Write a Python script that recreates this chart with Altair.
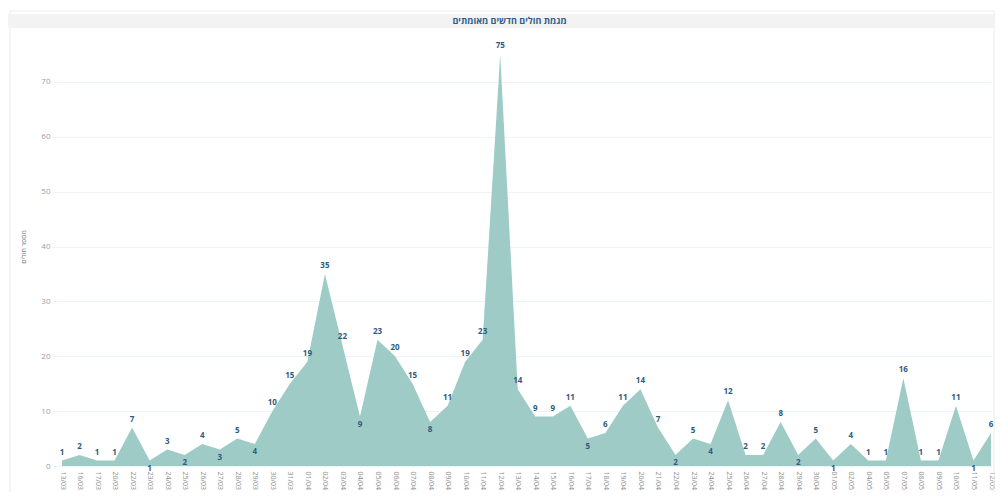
import altair as alt
import pandas as pd

dates = ["13/03", "16/03", "17/03", "20/03", "22/03", "23/03", "24/03", "25/03", "26/03", "27/03",
         "28/03", "29/03", "30/03", "31/03", "01/04", "02/04", "03/04", "04/04", "05/04", "06/04",
         "07/04", "08/04", "09/04", "10/04", "11/04", "12/04", "13/04", "14/04", "15/04", "16/04",
         "17/04", "18/04", "19/04", "20/04", "21/04", "22/04", "23/04", "24/04", "25/04", "26/04",
         "27/04", "28/04", "29/04", "30/04", "01/05", "02/05", "04/05", "05/05", "07/05", "08/05",
         "09/05", "10/05", "11/05", "12/05"]
cases = [1, 2, 1, 1, 7, 1, 3, 2, 4, 3,
         5, 4, 10, 15, 19, 35, 22, 9, 23, 20,
         15, 8, 11, 19, 23, 75, 14, 9, 9, 11,
         5, 6, 11, 14, 7, 2, 5, 4, 12, 2,
         2, 8, 2, 5, 1, 4, 1, 1, 16, 1,
         1, 11, 1, 6]
y_ticks = [0, 10, 20, 30, 40, 50, 60, 70]

title_text = "מגמת חולים חדשים מאומתים"
y_title = "מספר חולים"

pos = []
for i, v in enumerate(cases):
    prev = cases[i - 1] if i > 0 else None
    nxt = cases[i + 1] if i < len(cases) - 1 else None
    is_min = prev is not None and nxt is not None and v < prev and v < nxt
    pos.append("below" if is_min else "above")

df = pd.DataFrame({"date": dates, "cases": cases, "pos": pos})

W, H = 929, 439
FONT = "Open Sans"
LABEL_COLOR = "#2f5b7c"

x_enc = alt.X("date:O", sort=dates, title=None,
              scale=alt.Scale(type="point", padding=0),
              axis=alt.Axis(labelAngle=90, labelFontSize=7, labelColor="#8f8f8f",
                            ticks=False, domain=False, labelPadding=5, labelFont=FONT))
y_enc = alt.Y("cases:Q", title=y_title,
              scale=alt.Scale(domain=[0, 80], nice=False),
              axis=alt.Axis(values=y_ticks, labelFontSize=8, labelColor="#a0a0a0",
                            tickSize=10, tickColor="#eef3f8", gridColor="#eef3f8",
                            domain=False, labelPadding=2, titleFontSize=7,
                            titleColor="#777777", titleFontWeight="normal",
                            titlePadding=14, labelFont=FONT, titleFont=FONT))

base = alt.Chart(df)

area = base.mark_area(color="#9ecbc6", opacity=1).encode(x=x_enc, y=y_enc)

above = base.transform_filter(alt.datum.pos == "above").mark_text(
    baseline="bottom", dy=-4, fontSize=8, fontWeight="bold", color=LABEL_COLOR, font=FONT
).encode(x=alt.X("date:O", sort=dates), y="cases:Q", text="cases:Q")

below = base.transform_filter(alt.datum.pos == "below").mark_text(
    baseline="top", dy=4, fontSize=8, fontWeight="bold", color=LABEL_COLOR, font=FONT
).encode(x=alt.X("date:O", sort=dates), y="cases:Q", text="cases:Q")

band = alt.Chart(pd.DataFrame({"k": [0]})).mark_rect(color="#f3f3f3").encode(
    x=alt.value(-54), x2=alt.value(W + 4), y=alt.value(-13), y2=alt.value(1)
)
border = alt.Chart(pd.DataFrame({"k": [0]})).mark_rect(
    fill=None, stroke="#ececec", strokeWidth=1
).encode(
    x=alt.value(-52), x2=alt.value(W + 3), y=alt.value(-16), y2=alt.value(H + 32)
)
title = alt.Chart(pd.DataFrame({"k": [0]})).mark_text(
    text=title_text, fontSize=9, fontWeight="bold", color="#2d5f8e", font=FONT,
    align="center", baseline="middle"
).encode(x=alt.value(W / 2 - 17), y=alt.value(-6))

chart = alt.layer(border, band, area, above, below, title).properties(
    width=W, height=H,
    autosize=alt.AutoSizeParams(type="none"),
    padding={"left": 54, "top": 19, "right": 4, "bottom": 26},
).configure_view(stroke=None).configure_axisY(grid=True).configure_axisX(grid=False)

chart.save("out.html", embed_options={"renderer": "svg", "actions": False})
